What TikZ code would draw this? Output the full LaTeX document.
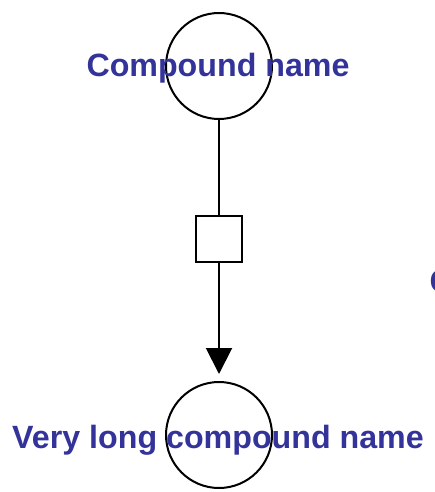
\documentclass[tikz,border=0pt]{standalone}
\usepackage{fontspec}
\setmainfont{Liberation Sans}
\usetikzlibrary{arrows.meta}
\definecolor{lblue}{HTML}{333399}
\begin{document}
\begin{tikzpicture}[x=1pt,y=-1pt,
  compound/.style={circle,draw,line width=2pt,minimum size=106pt,inner sep=0pt},
  reaction/.style={rectangle,draw,line width=2pt,minimum size=46pt,inner sep=0pt},
  cname/.style={text=lblue,font=\fontsize{32.2}{38}\selectfont\bfseries,inner sep=0pt},
  link/.style={line width=2pt}]
\useasboundingbox (0,0) rectangle (435,492);
\node[compound] (c1) at (219,66) {};
\node[reaction] (r1) at (219,239) {};
\node[compound] (c2) at (219,435) {};
\node[cname,anchor=base] (t1) at (218,76.5) {Compound name};
\node[cname,anchor=base] (t2) at (218,448) {Very long compound name};
\node[cname,anchor=base west] (t3) at (429.5,292) {C};
\draw[link] (c1) -- (r1);
\draw[link,-{Triangle[length=26pt,width=26pt]},shorten >=7pt] (r1) -- (c2);
\end{tikzpicture}
\end{document}
